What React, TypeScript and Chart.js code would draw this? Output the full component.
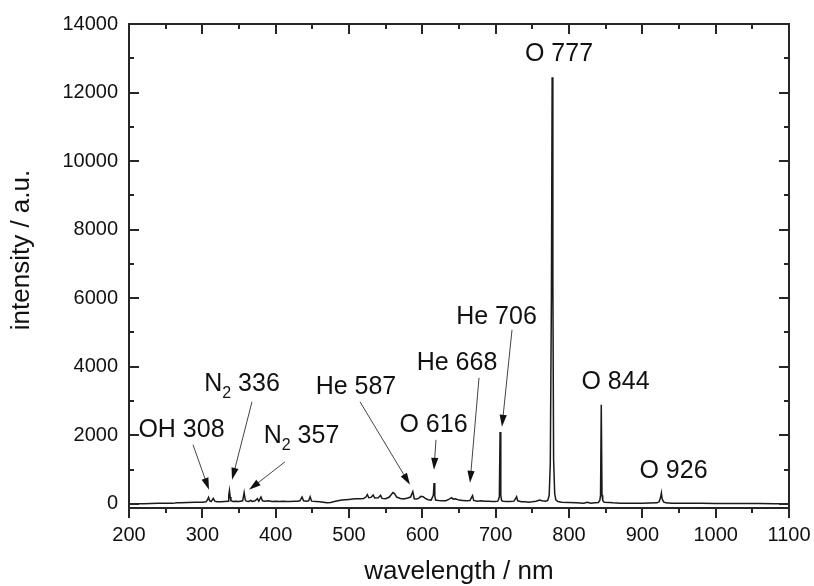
import React, { useEffect, useRef } from 'react';
import { Chart, registerables } from 'chart.js';

Chart.register(...registerables);

// ---- data ----
const WAVELENGTH = [
  200, 205, 210, 220, 230, 240, 250, 260, 265, 270, 280, 290, 300, 305, 307, 308.5, 310, 312, 315, 317,
  320, 325, 330, 335, 336, 337, 338, 339, 342, 345, 350, 355, 357, 358.5, 360, 363, 366, 368, 372, 375,
  377, 380, 382, 385, 390, 395, 400, 405, 410, 415, 420, 425, 430, 433, 436, 438, 442, 445, 447, 449,
  455, 460, 465, 470, 475, 480, 485, 490, 495, 500, 505, 510, 515, 520, 523, 525, 527, 530, 533, 535,
  540, 543, 545, 550, 555, 558, 560, 562, 565, 570, 575, 580, 584, 587, 589, 592, 595, 598, 601, 604,
  608, 612, 615, 616, 617, 618, 622, 628, 632, 636, 640, 642, 645, 650, 655, 660, 665, 667, 668.5, 670,
  675, 680, 685, 690, 695, 700, 703, 705, 706, 707, 708, 710, 715, 720, 725, 727, 728.5, 730, 735, 740,
  745, 750, 755, 760, 763, 768, 771, 773, 774.5, 776, 777, 778, 779, 780.5, 782, 785, 790, 800, 810, 820,
  825, 830, 835, 840, 842, 843, 844, 845, 846, 848, 855, 860, 870, 880, 890, 900, 910, 920, 923, 925,
  926, 927, 929, 932, 940, 950, 960, 980, 1000, 1020, 1040, 1060, 1080, 1100,
];
const INTENSITY = [
  -10, 0, 5, 5, 10, 15, 20, 15, 30, 30, 40, 45, 50, 60, 120, 190, 90, 70, 160, 80,
  60, 60, 70, 80, 250, 390, 200, 90, 70, 80, 70, 90, 330, 120, 80, 70, 100, 70, 90, 150,
  80, 200, 90, 80, 90, 70, 75, 70, 80, 70, 70, 80, 75, 90, 200, 90, 80, 90, 210, 80,
  70, 60, 50, 30, 40, 70, 90, 110, 120, 130, 140, 150, 150, 160, 200, 270, 180, 190, 260, 170,
  180, 250, 160, 150, 200, 280, 330, 300, 200, 160, 140, 170, 200, 360, 150, 140, 160, 220, 210, 160,
  120, 110, 250, 610, 250, 110, 100, 90, 90, 130, 180, 140, 150, 110, 100, 90, 100, 180, 240, 100,
  80, 90, 80, 80, 70, 70, 80, 200, 2100, 250, 100, 80, 70, 70, 80, 150, 210, 90, 60, 60,
  50, 60, 80, 110, 90, 80, 100, 250, 1200, 6000, 12450, 6500, 1300, 300, 120, 70, 50, 40, 30, 20,
  50, 20, 30, 40, 100, 250, 2890, 250, 100, 50, 40, 30, 20, 20, 20, 20, 25, 30, 60, 200,
  320, 150, 60, 30, 20, 20, 20, 15, 10, 10, 10, 10, 5, 5,
];

const X_TICKS = [200, 300, 400, 500, 600, 700, 800, 900, 1000, 1100];
const X_MINOR = [250, 350, 450, 550, 650, 750, 850, 950, 1050];
const Y_TICKS = [0, 2000, 4000, 6000, 8000, 10000, 12000, 14000];
const Y_MINOR = [1000, 3000, 5000, 7000, 9000, 11000, 13000];

const X_TITLE = 'wavelength / nm';
const Y_TITLE = 'intensity / a.u.';

// peak annotations (text centre and optional arrow, in data units); "_2" marks a subscript
const ANN_TEXT = ['OH 308', 'N_2 336', 'N_2 357', 'He 587', 'O 616', 'He 668', 'He 706', 'O 777', 'O 844', 'O 926'];
const ANN_X = [271.6, 354.1, 435.2, 509.5, 615.2, 647.3, 701.1, 786.4, 863.4, 942.5];
const ANN_Y = [2160, 3504, 1985, 3416, 2307, 4117, 5460, 13109, 3562, 963];
const ARROW_FROM_X = [287.3, 367.7, 412.7, 515.0, 618.6, 677.3, 722.3, null, null, null];
const ARROW_FROM_Y = [1723, 2978, 1226, 2978, 1869, 3679, 5080, null, null, null];
const ARROW_TO_X = [309.1, 340.5, 363.6, 583.2, 615.9, 665.0, 708.6, null, null, null];
const ARROW_TO_Y = [409, 701, 409, 555, 993, 613, 2248, null, null, null];

const FONT = "'Liberation Sans', Arial, Helvetica, sans-serif";

function drawLabel(ctx: CanvasRenderingContext2D, text: string, cx: number, cy: number) {
  const parts: { t: string; sub: boolean }[] = [];
  const re = /_(\d)/g;
  let last = 0;
  let m: RegExpExecArray | null;
  while ((m = re.exec(text)) !== null) {
    if (m.index > last) parts.push({ t: text.slice(last, m.index), sub: false });
    parts.push({ t: m[1], sub: true });
    last = m.index + m[0].length;
  }
  if (last < text.length) parts.push({ t: text.slice(last), sub: false });
  const mainFont = `25px ${FONT}`;
  const subFont = `16px ${FONT}`;
  let total = 0;
  const widths = parts.map((p) => {
    ctx.font = p.sub ? subFont : mainFont;
    const w = ctx.measureText(p.t).width;
    total += w;
    return w;
  });
  let x = cx - total / 2;
  ctx.textAlign = 'left';
  ctx.textBaseline = 'middle';
  ctx.fillStyle = '#111';
  parts.forEach((p, i) => {
    ctx.font = p.sub ? subFont : mainFont;
    ctx.fillText(p.t, x, p.sub ? cy + 10 : cy);
    x += widths[i];
  });
}

function drawArrow(ctx: CanvasRenderingContext2D, x1: number, y1: number, x2: number, y2: number) {
  const dx = x2 - x1;
  const dy = y2 - y1;
  const len = Math.hypot(dx, dy);
  const ux = dx / len;
  const uy = dy / len;
  const headL = 12;
  const headW = 3.6;
  const bx = x2 - ux * headL;
  const by = y2 - uy * headL;
  ctx.strokeStyle = '#444';
  ctx.lineWidth = 1;
  ctx.beginPath();
  ctx.moveTo(x1, y1);
  ctx.lineTo(bx + ux * 2, by + uy * 2);
  ctx.stroke();
  ctx.fillStyle = '#111';
  ctx.beginPath();
  ctx.moveTo(x2, y2);
  ctx.lineTo(bx - uy * headW, by + ux * headW);
  ctx.lineTo(bx + uy * headW, by - ux * headW);
  ctx.closePath();
  ctx.fill();
}

const framePlugin = {
  id: 'frameAndNotes',
  afterDatasetsDraw(chart: any) {
    const { ctx, chartArea: a, scales } = chart;
    const xs = scales.x;
    const ys = scales.y;
    ctx.save();
    ctx.strokeStyle = '#262626';
    ctx.lineWidth = 2;
    ctx.strokeRect(a.left, a.top, a.right - a.left, a.bottom - a.top);
    const line = (x1: number, y1: number, x2: number, y2: number) => {
      ctx.beginPath();
      ctx.moveTo(x1, y1);
      ctx.lineTo(x2, y2);
      ctx.stroke();
    };
    ctx.lineWidth = 2;
    X_TICKS.forEach((v) => {
      const p = Math.round(xs.getPixelForValue(v));
      line(p, a.bottom, p, a.bottom + 10);
      line(p, a.top, p, a.top + 10);
    });
    X_MINOR.forEach((v) => {
      const p = Math.round(xs.getPixelForValue(v));
      line(p, a.bottom, p, a.bottom + 5);
      line(p, a.top, p, a.top + 5);
    });
    Y_TICKS.forEach((v) => {
      const p = Math.round(ys.getPixelForValue(v));
      line(a.left, p, a.left + 10, p);
      line(a.right, p, a.right - 10, p);
    });
    Y_MINOR.forEach((v) => {
      const p = Math.round(ys.getPixelForValue(v));
      line(a.left, p, a.left + 5, p);
      line(a.right, p, a.right - 5, p);
    });

    // axis titles
    ctx.fillStyle = '#111';
    ctx.font = `26px ${FONT}`;
    ctx.textAlign = 'center';
    ctx.textBaseline = 'middle';
    ctx.fillText(X_TITLE, (a.left + a.right) / 2, a.bottom + 64);
    ctx.save();
    ctx.translate(22, (a.top + a.bottom) / 2 - 16);
    ctx.rotate(-Math.PI / 2);
    ctx.fillText(Y_TITLE, 0, 0);
    ctx.restore();

    // annotations
    ANN_TEXT.forEach((t, i) => {
      drawLabel(ctx, t, xs.getPixelForValue(ANN_X[i]), ys.getPixelForValue(ANN_Y[i]));
      const fx = ARROW_FROM_X[i];
      const fy = ARROW_FROM_Y[i];
      const tx = ARROW_TO_X[i];
      const ty = ARROW_TO_Y[i];
      if (fx != null && fy != null && tx != null && ty != null) {
        drawArrow(ctx, xs.getPixelForValue(fx), ys.getPixelForValue(fy), xs.getPixelForValue(tx), ys.getPixelForValue(ty));
      }
    });
    ctx.restore();
  },
};

export default function App() {
  const ref = useRef<HTMLCanvasElement | null>(null);
  useEffect(() => {
    if (!ref.current) return;
    const chart = new Chart(ref.current, {
      type: 'line',
      data: {
        datasets: [
          {
            data: WAVELENGTH.map((x, i) => ({ x, y: INTENSITY[i] })),
            borderColor: '#1a1a1a',
            borderWidth: 1.5,
            pointRadius: 0,
            tension: 0,
            fill: false,
          },
        ],
      },
      options: {
        responsive: false,
        animation: false,
        layout: { padding: { top: 24, right: 25, left: 0, bottom: 0 } },
        plugins: { legend: { display: false }, tooltip: { enabled: false } },
        scales: {
          x: {
            type: 'linear',
            min: 200,
            max: 1100,
            afterBuildTicks: (s: any) => {
              s.ticks = X_TICKS.map((v) => ({ value: v }));
            },
            afterFit: (s: any) => {
              s.height = 78;
              s.paddingLeft = 0;
              s.paddingRight = 0;
            },
            grid: { display: false, drawTicks: false },
            border: { display: false },
            ticks: {
              padding: 15,
              color: '#111',
              font: { family: FONT, size: 20 },
              maxRotation: 0,
              autoSkip: false,
              callback: (v: any) => String(v),
            },
          },
          y: {
            type: 'linear',
            min: -120,
            max: 14000,
            afterBuildTicks: (s: any) => {
              s.ticks = Y_TICKS.map((v) => ({ value: v }));
            },
            afterFit: (s: any) => {
              s.width = 129;
              s.paddingTop = 0;
              s.paddingBottom = 0;
            },
            grid: { display: false, drawTicks: false },
            border: { display: false },
            ticks: {
              padding: 11,
              color: '#111',
              font: { family: FONT, size: 20 },
              autoSkip: false,
              callback: (v: any) => String(v),
            },
          },
        },
      },
      plugins: [framePlugin],
    });
    return () => chart.destroy();
  }, []);
  return (
    <div style={{ position: 'absolute', left: 0, top: 0, width: 814, height: 586, background: '#fff' }}>
      <canvas ref={ref} width={814} height={586} style={{ display: 'block' }} />
    </div>
  );
}
